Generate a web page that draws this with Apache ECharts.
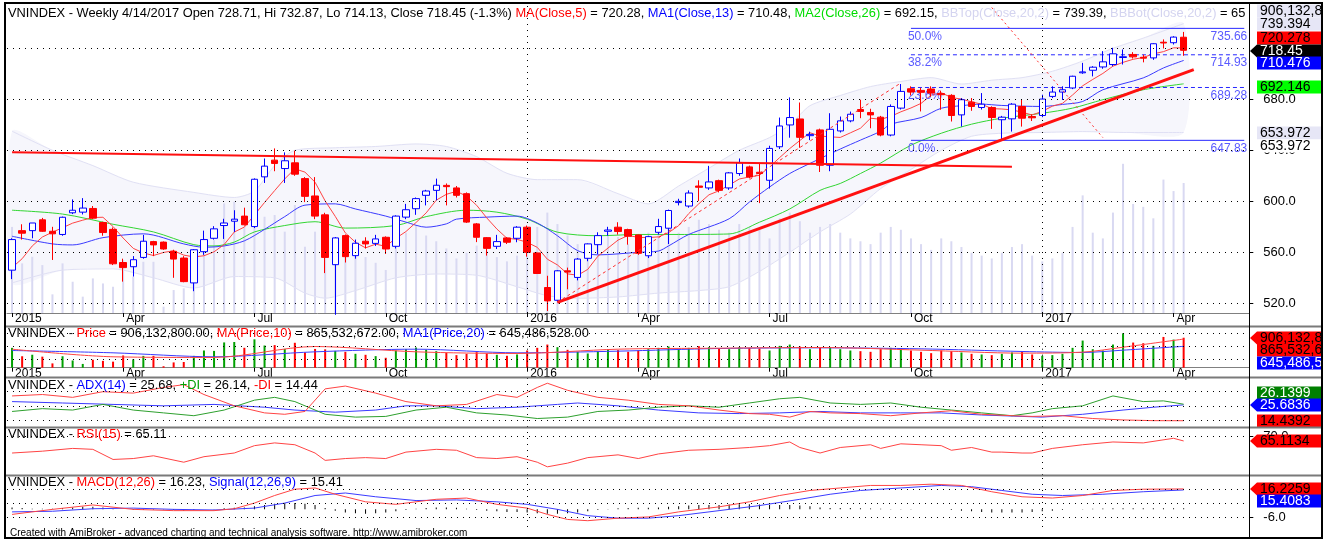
<!DOCTYPE html>
<html>
<head>
<meta charset="utf-8">
<script src="https://cdn.jsdelivr.net/npm/echarts@6/dist/echarts.min.js"></script>
<style>
html,body{margin:0;padding:0;background:#fff;}
#chart{width:1327px;height:539px;}
</style>
</head>
<body>
<div id="chart"></div>
<script>
// VNINDEX weekly bars, 2 Jan 2015 .. 14 Apr 2017 (117 weeks)
const opens = [546,577,577,585.5,576.5,574,591,591.5,594.4,583.4,
  578,552,548.7,556,568.4,568,560.8,555.5,536,560.5,
  571,581,584.4,588.4,580.2,619.2,632.3,625.7,630.2,617.8,
  604.2,589.4,550.3,573.1,557.4,568.7,567,571.8,564.7,587.6,
  594.2,604.7,608.6,612.5,610.5,606,582.3,571.5,564.7,571.3,
  571,579.7,559.5,532.4,522.4,545.5,540.3,555.3,566,576.5,
  579.7,577.8,573.6,557.3,575.7,578.9,599,596.3,612,610.5,
  616.2,610.5,621.8,627,622.8,616.5,642.8,659.9,664.6,651.5,
  656,628.3,655.2,663.1,672,669.7,666,652,673.1,688.3,
  687,688.1,684.5,683.1,667.8,677.8,673.6,673.6,664,664.7,
  674.4,666.5,667.3,682.3,685.7,688.9,700.8,702.8,705.4,707.3,
  712.8,715.2,713,712.5,724.8,724.4,728.71];
const highs = [571,582,583,587,580,588,601.5,602.5,596.3,584,
  579.5,555,557,573.7,569,568.5,562,557,562.5,577,
  580.5,586.3,593,595,618,633.6,641.5,638.4,639.7,619,
  619,591,572,574,570,571.8,573.7,572.5,589,598,
  603,609,617.8,614,612,607,583,572,573.7,572,
  580.5,581,560,541.6,546,548,555.5,567,575.7,580,
  583.6,578.5,574,573,586.3,593.5,602,608.6,616.5,627.8,
  617,623,633.6,628,629.7,643.6,665.7,681.5,677.5,654.6,
  657,669.1,666.5,670.4,679.7,672.6,667,676,692,690.2,
  689,690.2,686.8,684,681,681,684.9,674.5,667,677,
  679.7,668,683.6,690.2,690.2,698.5,708.6,706,717.8,720.4,
  719.1,717,715,724,727,729.5,732.87];
const lows = [539,570,571,576,554,573,590,589.7,586,573,
  550,537,541,555,557,562,540,536.5,529.5,558,
  570,570.5,576,581,579,614.4,623.6,614.4,620,599.4,
  586,543.7,511,552,555,563,565,558.7,563,586,
  589.4,596.8,600.8,596.8,603,583,568,557.4,562.6,566.5,
  567.9,556.6,543,514,520.8,531,538,553,558.6,573,
  573.9,566,558,555.5,573.9,566.5,596.8,595,600.2,609,
  607,609,620,618,598.6,610,641,649.9,642,648,
  623,623.6,654,662,665.2,657.3,651,651,672,683,
  670.5,682,671.8,662.6,658.6,671,672,656.8,647.83,654.7,
  658.6,663,666,681,679.5,688,700,698,704,706,
  707.3,712,709,711,719.9,723,714.13];
const closes = [570,575,583,576.5,574.5,587.5,593,594.7,586.8,575.5,
  551,548,554.2,568.7,565.8,562.6,554.7,537,562,570,
  578.4,583,586,581.6,617.3,627.6,629.7,631.8,621.3,603.9,
  588.4,556,571.3,556.6,567.1,566.6,570.5,562.6,588.4,593.4,
  602.1,608.1,612.6,611.5,604.7,583.7,571.8,563.1,568.4,567.9,
  579.7,560,543.4,521.9,545.5,544.5,554.7,566.6,573.1,577.5,
  576.3,572.6,559.2,572.3,580.2,592.8,600,606.5,611,615.2,
  608.6,622.3,630.2,619.1,621.8,641.5,659.1,665.7,650.2,652.5,
  628.3,656.5,663.1,668.3,670.5,667.8,652,674.4,686.2,685.7,
  685.5,684.9,683.6,667.3,679.7,674.4,676.2,665.7,666,676.2,
  665.2,665.5,680.2,685.7,687.5,698.1,701.5,705.2,709.4,715.7,
  713.4,713.3,712.3,723.6,724.2,728.8,718.45];
// weekly volume, million shares
const volumes = [600,346,392,334,130,346,218,114,241,206,
  183,369,253,357,357,44,160,172,357,520,
  508,764,776,602,857,671,683,567,753,462,
  567,555,508,480,420,390,350,300,520,560,
  610,540,500,450,380,420,470,430,390,360,
  400,520,600,700,620,540,480,430,500,560,
  530,480,520,560,600,640,560,600,650,620,
  580,560,620,600,580,520,660,700,640,560,
  600,620,560,520,500,480,560,600,580,520,
  480,440,520,500,460,420,400,380,420,460,
  480,400,360,380,420,600,820,560,520,700,
  1040,760,740,660,930,850,906];

// month ticks on the date axis (week index -> label)
const monthIdx = [0,11,24,37,51,62,75,89,102,115];
const monthNames = ['2015','Apr','Jul','Oct','2016','Apr','Jul','Oct','2017','Apr'];
const yearIdx = [51,102];

// moving averages
const ma5 = [548,555,565,572,575.8,579.3,582.9,585.2,587.3,587.5,
  580.2,571.2,563.1,559.5,557.5,559.9,561.2,557.8,556.4,557.3,
  560.4,566.1,575.9,579.8,589.3,599.1,608.4,617.6,625.5,622.9,
  615,600.3,588.2,575.2,567.9,563.5,566.4,564.7,571,576.3,
  583.4,590.9,600.9,605.5,607.8,604.1,596.9,587,578.3,571,
  570.2,567.8,563.9,554.6,550.1,543.1,542,546.6,556.9,563.3,
  569.6,573.2,571.7,571.6,572.1,575.4,580.9,590.4,598.1,605.1,
  608.3,612.7,617.5,619.1,620.4,627,634.3,641.4,647.7,653.8,
  651.2,650.6,650.1,653.7,657.3,665.2,664.3,666.6,670.2,673.2,
  676.8,683.3,685.2,681.4,680.2,678,676.2,672.7,672.4,671.7,
  669.9,667.7,670.6,674.6,676.8,683.4,690.6,695.6,700.3,706,
  709,711.4,712.8,715.7,717.4,720.4,720.28];
const ma13 = [[0,572.6],[4,566.6],[6,565.8],[9,571.5],[13,574.5],[17,566.6],[19,564],[21,565],
  [23,569],[25,578],[27,588],[29,597],[32,598],[34,594],[37,588.4],[39,583.7],[41,579.7],
  [43,582.3],[44,586],[47,587.6],[50,588.4],[52,583],[54,573],[56,561.3],[58,558],[62,560],
  [64,561],[65,565],[67,574],[71,586.3],[73,599.4],[75,611.2],[77,621.8],[79,629.7],[82,641],
  [84,648],[86,655],[87,660.5],[90,665.7],[92,673],[94,675],[96,676.2],[98,675.2],[102,674.4],
  [104,676],[106,678.3],[108,687.5],[112,696.8],[114,704.6],[116,710.48]];
const ma26 = [[0,593],[5,590],[10,582],[14,576],[18,566],[20,565],[22,568],[24,576],[27,581],
  [30,584],[33,579],[38,581],[41,588],[45,593],[48,591.5],[51,586],[54,575.8],[58,573],[62,574],
  [66,574],[71,574.4],[74,583.6],[77,594],[80,608.6],[82,614],[84,621.8],[86,630],[89,644],
  [92,653.4],[95,660.5],[98,665.2],[102,669.1],[105,673.1],[108,679.7],[112,687.5],[116,692.15]];
const bbTop = [[0,655],[4,640],[8,628],[12,615],[18,607],[22,603],[24,608],[26,628],[28,640],
  [32,642],[36,643],[40,645],[43,643],[46,635],[49,622],[52,617],[56,617],[60,606],[63,598],
  [66,612],[69,626],[72,640],[75,650],[77,660],[79,675],[82,683],[85,690],[88,694],[91,697],
  [94,692],[97,695],[100,697],[103,702],[106,710],[109,720],[112,728],[116,739.39]];
const bbBot = [[0,536],[5,546],[10,547],[14,540],[18,532],[22,541],[26,540],[29,528],[31,524],
  [34,530],[38,540],[42,543],[46,542],[50,533],[53,526],[56,524],[60,525],[64,528],[68,530],
  [71,533],[74,545],[77,560],[80,576],[83,590],[86,610],[89,625],[92,640],[95,651],[98,653.4],
  [102,654],[106,654.7],[110,654],[116,653.97]];

// drawn studies
const resistLine = [[0,638.4],[99,627.1]];
const supportLine = [[54,520.8],[117,703.3]];
const channelLine = [[54,520.8],[88,692.8]];
const fanLine = [[97,752],[108,650]];
const fibStart = 89;
const fibLevels = [735.66,714.93,689.28,647.83];
const fibNames = ['50.0%','38.2%','23.6%','0.0%'];

// volume averages
const volMa10 = [[0,560],[10,330],[20,310],[30,640],[40,480],[50,430],[60,560],[70,590],[80,610],
  [90,530],[100,440],[106,470],[110,620],[116,865.5]];
const volMa20 = [[0,520],[10,450],[20,330],[30,480],[40,560],[50,450],[60,500],[70,580],[80,600],
  [90,570],[100,490],[106,460],[110,530],[116,645.5]];

// ADX(14)
const adx = [[0,28],[5,27],[10,26],[15,25],[20,26],[25,24],[28,22],[32,20.5],[36,22],[39,25],
  [42,25],[46,23],[50,24],[54,26],[56,27],[60,25],[64,22],[68,20],[72,19.5],[76,20],[80,21],
  [84,20],[88,20],[92,20],[96,18.5],[100,17.5],[102,17],[106,19],[110,22],[113,24],[116,25.68]];
const pdi = [[0,21],[3,23],[6,22],[9,26],[12,22],[15,20],[18,18],[21,22],[24,29],[26,31],[28,28],
  [31,19],[34,17],[37,17.5],[40,22],[43,24],[46,20],[49,18.5],[52,16],[55,17],[58,21],[61,22],
  [64,24],[67,25],[70,24],[73,27],[76,30],[78,31],[81,27],[84,26],[87,27],[90,24],[93,22],
  [96,20],[99,18],[101,20],[103,23],[106,25],[109,32],[112,28],[114,28.5],[116,26.14]];
const mdi = [[0,32],[3,33],[6,31],[9,35],[12,34],[15,38],[17,40],[19,33],[22,25],[25,20],[27,19],
  [29,21],[31,37],[33,39],[36,34],[39,28],[42,25],[45,26],[48,33],[50,31],[52,38],[53,41],
  [55,36],[58,31],[61,29],[64,26],[67,25],[70,22],[73,19.5],[75,19],[77,17],[79,21],[81,20],
  [84,19.5],[87,18],[90,20],[93,21.5],[96,19],[99,18],[101,17.5],[104,18],[107,16],[110,15],
  [113,14.5],[116,14.44]];

// RSI(15)
const rsi = [[0,52],[3,54],[6,57],[8,56],[10,45],[12,46],[14,49],[17,42],[19,48],[22,52],[24,60],
  [26,63],[28,61],[30,52],[31,44],[33,46],[35,47],[37,46],[39,53],[42,56],[44,55],[46,47],
  [48,46],[50,48],[52,42],[53,37],[55,41],[57,47],[60,50],[62,46],[64,51],[67,55],[70,56],
  [73,58],[75,60],[77,64],[78,58],[80,52],[82,58],[85,61],[86,57],[88,62],[90,61],[92,60],
  [93,55],[95,58],[97,53],[98,53],[100,52],[101,52],[103,57],[106,61],[109,64],[112,63],
  [115,68],[116,65.11]];

// MACD(12,26) and signal(9)
const macd = [[0,-4],[4,0],[8,3.5],[12,0],[16,-1],[20,-1],[22,0.5],[24,5],[26,11],[28,16],[30,17],
  [32,12],[35,6],[38,4],[42,8],[45,9],[48,4],[51,1],[53,-4],[55,-8],[57,-9],[60,-7],[63,-6],
  [66,-2],[70,2],[73,6],[76,11],[79,15],[82,17],[85,19],[88,19],[91,20],[94,19],[97,14],
  [100,10],[103,9],[106,11],[109,15],[112,16],[116,16.23]];
const signal = [[0,-2],[4,-1.5],[8,0.5],[12,1],[16,0],[20,-0.5],[24,1],[27,5],[30,11],[33,13],
  [36,10],[40,7],[44,7.5],[48,6],[51,4],[54,0],[57,-5],[60,-7],[63,-7],[66,-5],[70,-1],[74,3],
  [78,8],[81,12],[84,15],[88,17],[92,19],[95,18],[98,15],[101,12],[104,11],[108,12],[112,14],
  [116,15.41]];
const macdHist = [1.5,1,0.5,0.5,0.5,1,1.5,2,2,1.5,
  0.5,0,-0.5,-0.5,-0.3,-0.2,-0.5,-1,-0.5,0,0.3,
  0.8,1.2,1.5,2.5,3.5,4.5,5,5,4.5,3.5,
  1,-1,-2.5,-3,-3.5,-3,-2.5,-1.5,
  -0.5,0.5,1,1.5,1.5,1.2,0.5,
  -0.5,-1,-1.5,-2,-2,-2.5,-3,-3.5,-3.5,-3,-2.5,-1.5,
  -0.5,0.3,0.8,1,1.2,1.3,1.5,2,2.5,
  3,3.5,3.5,3.5,3.8,4,4,3.8,3.5,3.5,3.5,3,2.5,1.5,
  1,1,1,0.8,0.6,0.4,0.3,0.2,0.2,0.1,0,0,
  -0.5,-1,-1.5,-2,-2.5,-2.5,-2.5,-2.5,-2,-1.5,-1,-0.5,
  0,0.3,0.5,0.7,0.8,0.8,0.8,0.8,0.8,0.8,0.8,0.82];

const chart = echarts.init(document.getElementById('chart'));
const FONT = 'Liberation Sans, Arial, sans-serif';
const L = 7, W = 1242.3, nCat = 123;
const cats = Array.from({length: nCat}, (_, i) => String(i));
const dotted = {type: [1, 5], color: '#000', width: 1};
const isMonth = (i) => monthIdx.indexOf(i) >= 0;

function xAx(gi, labels) {
  return {
    type: 'category', gridIndex: gi, data: cats, boundaryGap: true,
    axisLine: {show: labels, lineStyle: {color: '#808080'}},
    axisTick: {show: labels, alignWithLabel: true, length: 4, interval: isMonth, lineStyle: {color: '#000'}},
    axisLabel: {show: labels, interval: isMonth, formatter: (v, i) => monthNames[monthIdx.indexOf(Number(v))] || '',
      align: 'left', margin: 0, padding: [0, 0, 0, 3], fontSize: 12, color: '#000', fontFamily: FONT},
    splitLine: {show: false}
  };
}
function gridLines(vals) {
  return {symbol: 'none', silent: true, label: {show: false}, lineStyle: dotted,
    data: vals.map(v => ({yAxis: v})).concat(yearIdx.map(i => ({xAxis: i})))};
}
function lineS(x, y, data, color, extra) {
  return Object.assign({type: 'line', xAxisIndex: x, yAxisIndex: y, data: data, symbol: 'none',
    lineStyle: {color: color, width: 1}, silent: true, z: 3}, extra || {});
}

const series = [];
// Bollinger band fill
series.push({
  type: 'custom', xAxisIndex: 0, yAxisIndex: 0, data: [[0, 600]], z: 1, silent: true, clip: true,
  renderItem: (params, api) => {
    const pts = bbTop.map(p => api.coord(p)).concat(bbBot.slice().reverse().map(p => api.coord(p)));
    return {type: 'polygon', shape: {points: pts, smooth: 0.25}, style: {fill: '#f6f6fc'}};
  }
});
series.push(lineS(0, 0, bbTop, '#e0e0f4', {smooth: 0.25, z: 2, markLine: gridLines([520, 560, 600, 640, 680, 720])}));
series.push(lineS(0, 0, bbBot, '#e0e0f4', {smooth: 0.25, z: 2}));
// volume ghost bars behind price
series.push({type: 'bar', xAxisIndex: 0, yAxisIndex: 1, data: volumes, barWidth: 2, z: 2, silent: true,
  itemStyle: {color: '#d9d9f2'}});
series.push(lineS(0, 0, ma26, '#33d633', {smooth: 0.3}));
series.push(lineS(0, 0, ma13, '#3b3bff', {smooth: 0.3}));
series.push(lineS(0, 0, ma5, '#ff4444'));
// Fibonacci retracement
fibLevels.forEach((lv, k) => {
  series.push({
    type: 'line', xAxisIndex: 0, yAxisIndex: 0, symbol: 'circle', symbolSize: 0.1, silent: true, z: 3,
    itemStyle: {color: 'rgba(0,0,0,0)'},
    lineStyle: {color: '#2828ff', width: 1, type: (k === 1 || k === 2) ? [4, 3] : 'solid'},
    label: {color: '#5a5aff', fontSize: 12, fontFamily: FONT},
    data: [
      {value: [fibStart, lv], label: {show: true, formatter: fibNames[k], position: 'bottom', align: 'left', offset: [-3, -3]}},
      {value: [nCat - 1, lv], label: {show: true, formatter: lv.toFixed(2), position: 'bottom', align: 'right', offset: [3, -3]}}
    ]
  });
});
// candles
series.push({
  type: 'candlestick', xAxisIndex: 0, yAxisIndex: 0, barWidth: 7, z: 4, silent: true,
  data: opens.map((o, i) => [o, closes[i], lows[i], highs[i]]),
  itemStyle: {color: '#ffffff', color0: '#ff0000', borderColor: '#0000ff', borderColor0: '#ff0000',
    borderColorDoji: '#ff0000', borderWidth: 1}
});
// trend lines
series.push(lineS(0, 0, resistLine, '#ff0000', {z: 5, lineStyle: {color: '#ff1010', width: 2}}));
series.push(lineS(0, 0, supportLine, '#ff0000', {z: 5, lineStyle: {color: '#ff1010', width: 3}}));
series.push(lineS(0, 0, channelLine, '#ff0000', {z: 5, lineStyle: {color: '#ff3030', width: 1, type: [3, 3]}}));
series.push(lineS(0, 0, fanLine, '#ff0000', {z: 5, lineStyle: {color: '#ff3030', width: 1, type: [2, 3]}}));

// volume panel
series.push({type: 'bar', xAxisIndex: 1, yAxisIndex: 2, barWidth: 2, silent: true, z: 2,
  data: volumes.map((v, i) => ({value: v, itemStyle: {color: closes[i] >= opens[i] ? '#00a000' : '#ff0000'}})),
  markLine: gridLines([260, 640, 1050])});
series.push(lineS(1, 2, volMa20, '#3b3bff', {smooth: 0.3}));
series.push(lineS(1, 2, volMa10, '#ff4444', {smooth: 0.3}));
// ADX panel
series.push(lineS(2, 3, adx, '#3b3bff', {markLine: gridLines([15, 25, 35])}));
series.push(lineS(2, 3, pdi, '#2ea02e'));
series.push(lineS(2, 3, mdi, '#ff4444'));
// RSI panel
series.push(lineS(3, 4, rsi, '#ff4444', {markLine: gridLines([70])}));
// MACD panel
series.push({type: 'bar', xAxisIndex: 4, yAxisIndex: 5, data: macdHist, barWidth: 1, silent: true, z: 2,
  itemStyle: {color: '#000'}, markLine: gridLines([-6, 5, 16])});
series.push(lineS(4, 5, signal, '#3b3bff'));
series.push(lineS(4, 5, macd, '#ff4444'));

// right-hand value tags
const tags = [
  ['906,132,8', 11, '#e6e6f6', '#000', false],
  ['739.394', 24, '#e6e6f6', '#000', false],
  ['720.278', 38, '#ff0000', '#000', false],
  ['718.45', 51, '#000000', '#fff', true],
  ['710.476', 63, '#0000ff', '#fff', false],
  ['692.146', 87, '#00ff00', '#000', false],
  ['653.972', 133, '#e6e6f6', '#000', false],
  ['653.972', 146, '#ffffff', '#000', false],
  ['906,132,8', 338, '#ff0000', '#000', true],
  ['865,532,6', 350, '#ff0000', '#000', false],
  ['645,486,5', 363, '#0000ff', '#fff', false],
  ['26.1399', 393, '#008000', '#fff', false],
  ['25.6836', 405, '#0000ff', '#fff', true],
  ['14.4392', 421, '#ff0000', '#000', false],
  ['65.1134', 441, '#ff0000', '#000', true],
  ['16.2259', 489, '#ff0000', '#000', true],
  ['15.4083', 501, '#0000ff', '#fff', false]
];
const graphics = [];
// keep the long price title from running into the value column
graphics.push({type: 'rect', z: 49, shape: {x: 1250, y: 5, width: 72, height: 16}, style: {fill: '#fff'}});
tags.forEach(([t, y, bg, fg, arrow]) => {
  graphics.push({type: 'rect', z: 50, shape: {x: 1257, y: y - 6.5, width: 64, height: 13}, style: {fill: bg}});
  if (arrow) graphics.push({type: 'polygon', z: 50, shape: {points: [[1250, y], [1257, y - 6.5], [1257, y + 6.5]]}, style: {fill: bg}});
  graphics.push({type: 'text', z: 51, style: {x: 1260, y: y + 0.5, text: t, fill: fg, font: '14px ' + FONT, align: 'left', verticalAlign: 'middle'}});
});
// cover tag text overflowing the right frame
graphics.push({type: 'rect', z: 55, shape: {x: 1321, y: 3, width: 6, height: 536}, style: {fill: '#fff'}});
// panel frames
[326.5, 377.5, 427.5, 475.5].forEach(y => graphics.push({type: 'line', z: 60,
  shape: {x1: 5, y1: y, x2: 1322, y2: y}, style: {stroke: '#7a7a7a', lineWidth: 2}}));
graphics.push({type: 'line', z: 60, shape: {x1: 1249.5, y1: 4, x2: 1249.5, y2: 538}, style: {stroke: '#000', lineWidth: 1}});
graphics.push({type: 'rect', z: 61, shape: {x: 5, y: 3, width: 1317, height: 535}, style: {fill: 'none', stroke: '#000', lineWidth: 2}});

const TS = 12.85;
const titleBase = {left: 8, textStyle: {fontSize: TS, fontFamily: FONT, fontWeight: 'normal', color: '#000',
  rich: {k: {color: '#000', fontSize: TS, fontFamily: FONT}, r: {color: '#ff0000', fontSize: TS, fontFamily: FONT},
    b: {color: '#0000ff', fontSize: TS, fontFamily: FONT}, g: {color: '#00dd00', fontSize: TS, fontFamily: FONT},
    dg: {color: '#00a000', fontSize: TS, fontFamily: FONT}, l: {color: '#d4d4f0', fontSize: TS, fontFamily: FONT}}}};
const mk = (top, text) => Object.assign({}, titleBase, {top: top, text: text, padding: 0});

chart.setOption({
  animation: false,
  backgroundColor: '#fff',
  title: [
    mk(7, '{k|VNINDEX - Weekly 4/14/2017 Open 728.71, Hi 732.87, Lo 714.13, Close 718.45 (-1.3%) }{r|MA(Close,5)}{k| = 720.28, }{b|MA1(Close,13)}{k| = 710.48, }{g|MA2(Close,26)}{k| = 692.15, }{l|BBTop(Close,20,2)}{k| = 739.39, }{l|BBBot(Close,20,2)}{k| = 65}'),
    mk(327, '{k|VNINDEX - }{r|Price}{k| = 906,132,800.00, }{r|MA(Price,10)}{k| = 865,532,672.00, }{b|MA1(Price,20)}{k| = 645,486,528.00}'),
    mk(379, '{k|VNINDEX - }{b|ADX(14)}{k| = 25.68, }{dg|+DI}{k| = 26.14, }{r|-DI}{k| = 14.44}'),
    mk(428, '{k|VNINDEX - }{r|RSI(15)}{k| = 65.11}'),
    mk(476, '{k|VNINDEX - }{r|MACD(12,26)}{k| = 16.23, }{b|Signal(12,26,9)}{k| = 15.41}'),
    {left: 10, top: 528, padding: 0, text: 'Created with AmiBroker - advanced charting and technical analysis software. http://www.amibroker.com',
      textStyle: {fontSize: 10, fontFamily: FONT, fontWeight: 'normal', color: '#000'}}
  ],
  grid: [
    {left: L, top: 6, width: W, height: 307},
    {left: L, top: 328, width: W, height: 39.7},
    {left: L, top: 378, width: W, height: 49},
    {left: L, top: 428, width: W, height: 47},
    {left: L, top: 477, width: W, height: 50}
  ],
  xAxis: [xAx(0, true), xAx(1, true), xAx(2, false), xAx(3, false), xAx(4, false)],
  yAxis: [
    {gridIndex: 0, position: 'right', min: 512.4, max: 753.2, axisLine: {show: false},
      axisTick: {show: true, customValues: [520, 560, 600, 640, 680], length: 4, lineStyle: {color: '#000'}},
      axisLabel: {customValues: [520, 560, 600, 640, 680], formatter: v => v.toFixed(1), fontSize: 13, color: '#000', margin: 14, fontFamily: FONT},
      splitLine: {show: false}},
    {gridIndex: 0, min: 0, max: 2140, show: false},
    {gridIndex: 1, min: 0, max: 1200, show: false},
    {gridIndex: 2, min: 10, max: 44.7, show: false},
    {gridIndex: 3, position: 'right', min: 28.1, max: 79.2, axisLine: {show: false},
      axisTick: {show: true, customValues: [70], length: 4, lineStyle: {color: '#000'}},
      axisLabel: {customValues: [70], formatter: v => v.toFixed(1), fontSize: 13, color: '#000', margin: 14, fontFamily: FONT},
      splitLine: {show: false}},
    {gridIndex: 4, position: 'right', min: -14, max: 25.7, axisLine: {show: false},
      axisTick: {show: true, customValues: [-6], length: 4, lineStyle: {color: '#000'}},
      axisLabel: {customValues: [-6], formatter: v => v.toFixed(1), fontSize: 13, color: '#000', margin: 14, fontFamily: FONT},
      splitLine: {show: false}}
  ],
  series: series,
  graphic: graphics
});
</script>
</body>
</html>
